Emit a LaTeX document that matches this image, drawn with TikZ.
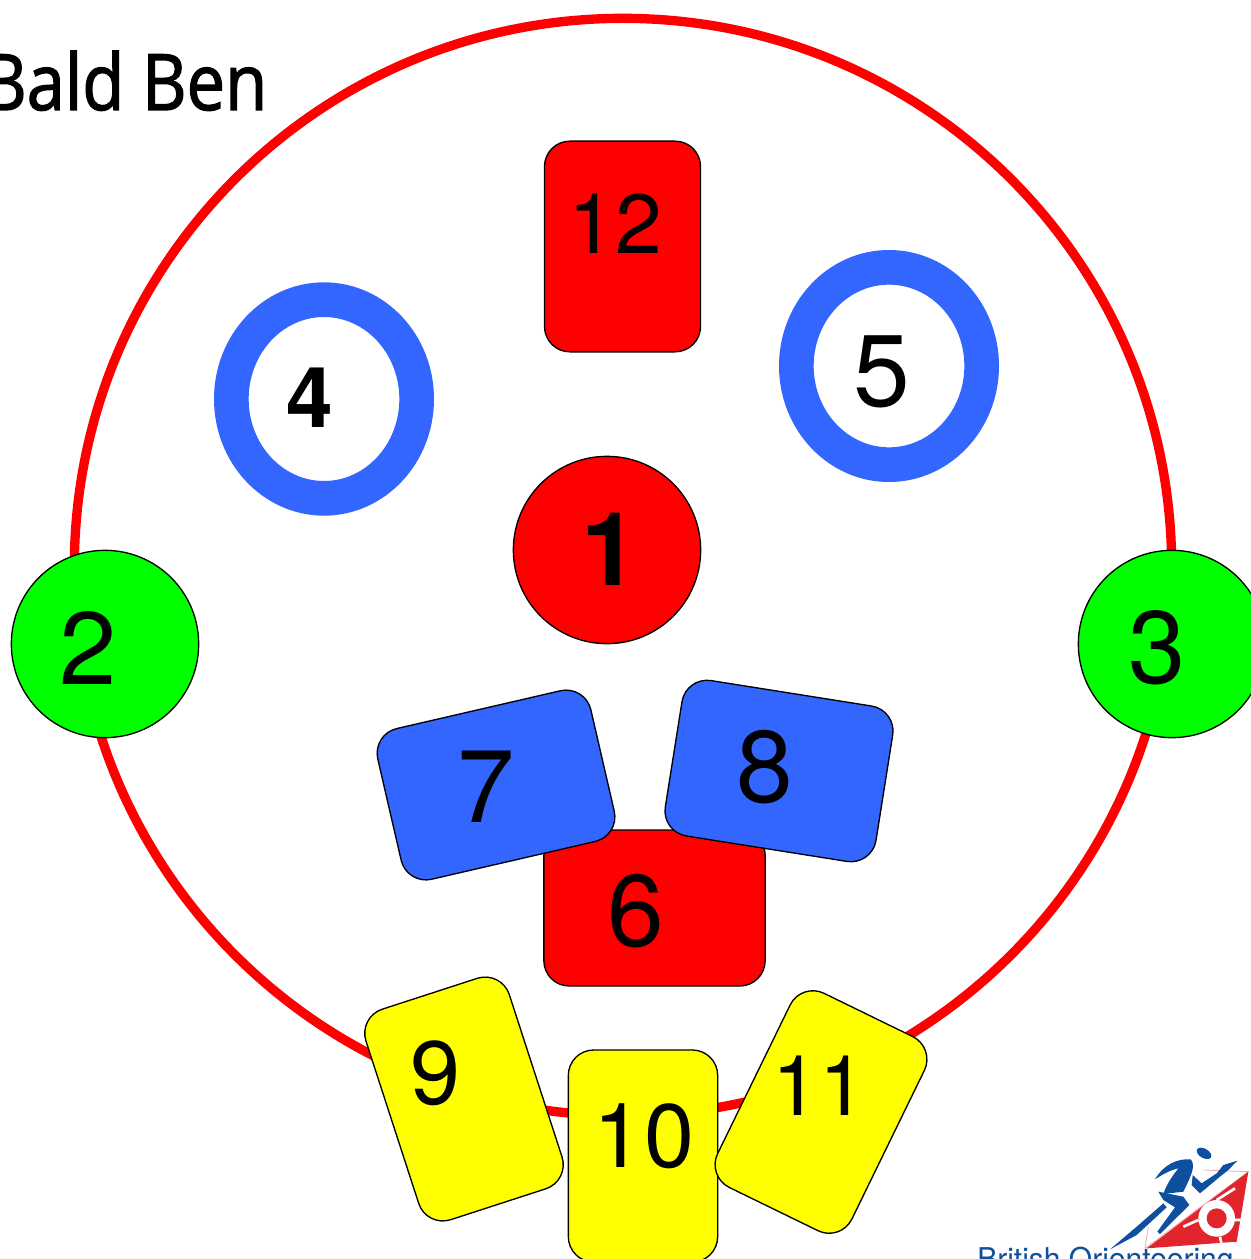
\documentclass[tikz,border=0pt]{standalone}
\usepackage{fontspec}
\setmainfont{TeX Gyre Heros}
\newfontfamily\titlefont[FakeBold=1.6,FakeStretch=0.88]{Open Sans}
\usetikzlibrary{shapes.geometric}
\definecolor{ringblue}{RGB}{51,102,255}
\definecolor{cardblue}{RGB}{51,102,255}
\definecolor{pureyellow}{RGB}{255,255,0}
\definecolor{puregreen}{RGB}{0,255,0}
\definecolor{purered}{RGB}{255,0,0}
\definecolor{logoblue}{RGB}{15,79,159}
\definecolor{logored}{RGB}{226,36,44}
\definecolor{logopale}{RGB}{242,169,172}
\newcommand{\pxfont}[1]{\fontsize{\dimexpr #1pt*3/4\relax}{\dimexpr #1pt*3/4\relax}\selectfont}
\tikzset{
  x=0.75pt,y=-0.75pt,
  disc/.style={circle,draw=black,line width=1pt,minimum size=140.5pt,inner sep=0pt},
  ring/.style={ellipse,draw=ringblue,fill=white,line width=26pt,inner sep=0pt},
  card/.style={rectangle,draw=black,line width=1pt,rounded corners=19pt,inner sep=0pt},
  digit/.style={inner sep=0pt,text=black},
  cardred/.style={card,fill=purered},
  cardb/.style={card,fill=cardblue},
  cardy/.style={card,fill=pureyellow},
  logopart/.style={fill=logoblue,draw=none}
}
\begin{document}
\begin{tikzpicture}
\useasboundingbox (0,0) rectangle (1251,1259);
\clip (0,0) rectangle (1251,1259);
\fill[white] (0,0) rectangle (1251,1259);
% big ring
\node[circle,draw=purered,line width=7pt,minimum size=823pt,inner sep=0pt] (bigring) at (623,567) {};
% title
\node[anchor=base west,inner sep=0pt] (title) at (-18,110) {\titlefont\pxfont{78}Bald Ben};
% discs
\node[disc,fill=puregreen] (n2) at (105,644) {};
\node[disc,fill=puregreen] (n3) at (1172,644) {};
\node[disc,fill=purered] (n1) at (607,550) {};
% rings
\node[ring,minimum width=139pt,minimum height=149pt] (n4) at (324,399) {};
\node[ring,minimum width=139pt,minimum height=148pt] (n5) at (889,366) {};
% cards
\node[cardred,minimum width=117pt,minimum height=158pt] (n12) at (622.5,246.5) {};
\node[cardred,minimum width=166pt,minimum height=117pt] (n6) at (654.5,908) {};
\node[cardb,minimum width=164pt,minimum height=116pt,rotate=13] (n7) at (496,785) {};
\node[cardb,minimum width=160pt,minimum height=118pt,rotate=-9] (n8) at (779,771) {};
\node[cardy,minimum width=113pt,minimum height=166pt,rotate=18] (n9) at (464,1099) {};
\node[cardy,minimum width=112pt,minimum height=159pt] (n10) at (643,1156) {};
\node[cardy,minimum width=112pt,minimum height=162pt,rotate=-26] (n11) at (821,1112) {};
% digits
\node[digit] (t1) at (610,549) {\pxfont{102}\bfseries 1};
\node[digit] (t2) at (88,648) {\pxfont{103}2};
\node[digit] (t3) at (1157,648) {\pxfont{103}3};
\node[digit] (t4) at (310,398) {\pxfont{84}\bfseries 4};
\node[digit] (t5) at (882,372) {\pxfont{102}5};
\node[digit] (t6) at (636,911) {\pxfont{102}6};
\node[digit] (t7) at (486,787) {\pxfont{103}7};
\node[digit] (t8) at (765,767) {\pxfont{102}8};
\node[digit] (t9) at (436,1073) {\pxfont{90}9};
\node[digit] (t10) at (644,1136) {\pxfont{90}10};
\node[digit] (t11) at (819,1086) {\pxfont{84}11};
\node[digit] (t12) at (615,224) {\pxfont{84}12};
% logo
\begin{scope}[shift={(950,1120)},x=0.25pt,y=-0.25pt]
  \draw[logopale,line width=0.6pt] (760,150) -- (895,155) -- (585,385) -- (595,320);
  \fill[logored] (895,155) -- (860,365) -- (590,385) -- cycle;
  \fill[white] (800,295) circle (55);
  \fill[logored] (800,295) circle (30);
  \draw[white,line width=2pt] (800,240) -- (855,205) (745,300) -- (700,320) (810,350) -- (815,375) (855,300) -- (880,300);
  \fill[logopart,rotate around={-30:(762,100)}] (762,100) ellipse (24 and 14);
  \path[logopart] (615,178) .. controls (640,135) and (680,115) .. (722,118) .. controls (738,135) and (725,165) .. (700,215) -- (640,222) .. controls (650,190) and (670,165) .. (685,145) .. controls (660,150) and (635,165) .. cycle;
  \path[logopart] (728,165) -- (755,190) -- (800,160) -- (820,135) -- (862,122) -- (835,150) -- (810,170) -- (750,220) -- (725,195) -- cycle;
  \path[logopart] (625,215) -- (700,230) -- (718,255) -- (630,342) -- (622,335) -- (675,262) -- (640,240) -- cycle;
  \path[logopart] (640,250) -- (650,262) -- (560,345) -- (480,388) -- (560,320) -- cycle;
\end{scope}
\node[anchor=base west,inner sep=0pt,text=logoblue] (brand) at (977,1269) {\pxfont{30}British Orienteering};
\end{tikzpicture}
\end{document}
